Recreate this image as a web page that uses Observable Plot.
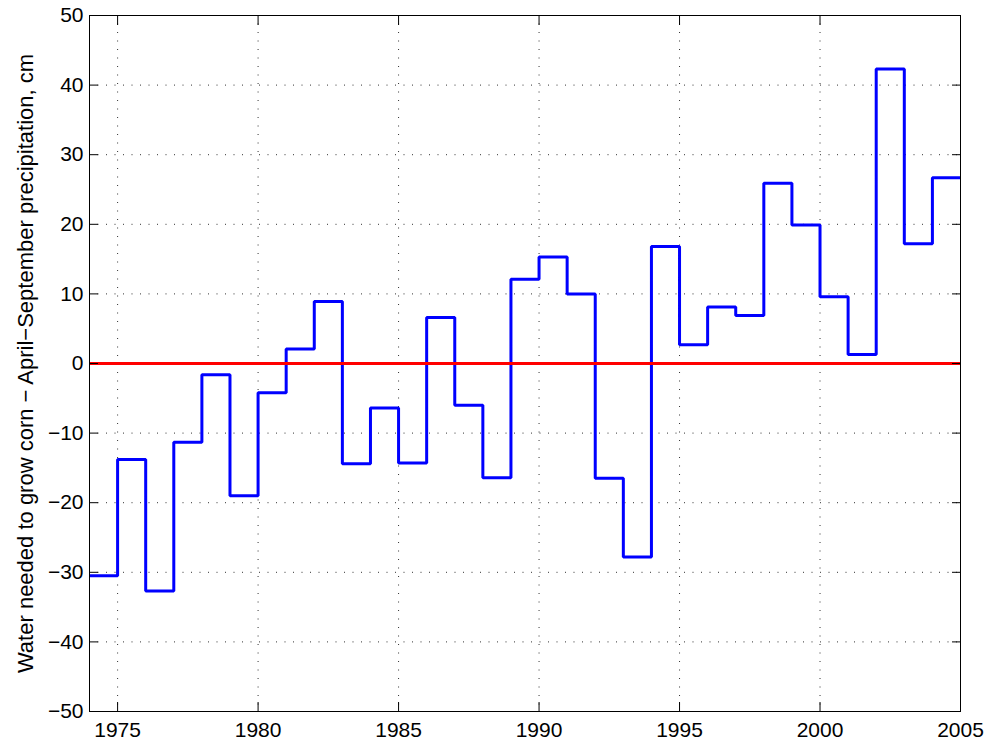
<!DOCTYPE html>
<html><head><meta charset="utf-8">
<script src="https://cdn.jsdelivr.net/npm/d3@7"></script>
<script src="https://cdn.jsdelivr.net/npm/@observablehq/plot@0.6"></script>
<style>body{margin:0;background:#fff}</style>
</head><body><div id="chart"></div>
<script>
const years = [1974,1975,1976,1977,1978,1979,1980,1981,1982,1983,1984,1985,1986,1987,1988,1989,1990,1991,1992,1993,1994,1995,1996,1997,1998,1999,2000,2001,2002,2003,2004,2005];
const values = [-30.5,-13.8,-32.7,-11.3,-1.6,-19.0,-4.2,2.1,8.9,-14.4,-6.4,-14.3,6.6,-6.0,-16.4,12.1,15.3,10.0,-16.5,-27.8,16.8,2.7,8.1,6.9,25.9,19.9,9.6,1.3,42.3,17.2,26.7,26.7];
const xTicks = [1975,1980,1985,1990,1995,2000,2005];
const yTicks = [-50,-40,-30,-20,-10,0,10,20,30,40,50];
const yLabel = "Water needed to grow corn \u2212 April\u2212September precipitation, cm";

const data = years.map((year, i) => ({year, value: values[i]}));
const font = "'Liberation Sans', Arial, Helvetica, sans-serif";
const grid = {stroke: "#333", strokeWidth: 1, strokeDasharray: "1,7.5"};
const fmtY = d => d < 0 ? "\u2212" + Math.abs(d) : String(d);

const chart = Plot.plot({
  width: 989, height: 740,
  marginLeft: 89, marginRight: 29, marginTop: 15, marginBottom: 29,
  style: {fontFamily: font, fontSize: "21px", background: "#fff", color: "#000"},
  x: {domain: [1974, 2005]},
  y: {domain: [-50, 50]},
  marks: [
    Plot.ruleX(xTicks, grid),
    Plot.ruleY(yTicks, grid),
    Plot.line(data, {x: "year", y: "value", curve: "step-after", stroke: "#0000ff", strokeWidth: 3, strokeLinejoin: "miter", strokeLinecap: "butt"}),
    Plot.ruleY([0], {stroke: "#ff0000", strokeWidth: 3}),
    Plot.frame({stroke: "#000", strokeWidth: 1}),
    Plot.axisX(xTicks, {anchor: "bottom", tickSize: -9, label: null, tickFormat: () => ""}),
    Plot.axisX(xTicks, {anchor: "top", tickSize: -9, label: null, tickFormat: () => ""}),
    Plot.axisY(yTicks, {anchor: "left", tickSize: -9, label: null, tickFormat: () => ""}),
    Plot.axisY(yTicks, {anchor: "right", tickSize: -9, label: null, tickFormat: () => ""}),
    Plot.text(xTicks, {x: d => d, text: d => String(d), frameAnchor: "bottom", lineAnchor: "top", textAnchor: "middle", dy: 11, fontSize: 21, fill: "#000"}),
    Plot.text(yTicks, {y: d => d, text: fmtY, frameAnchor: "left", textAnchor: "end", lineAnchor: "middle", dx: -6, fontSize: 21, fill: "#000"}),
    Plot.text([yLabel], {text: d => d, frameAnchor: "left", textAnchor: "middle", rotate: -90, dx: -64, fontSize: 22, fill: "#000"})
  ]
});
document.getElementById("chart").appendChild(chart);
</script>
</body></html>
